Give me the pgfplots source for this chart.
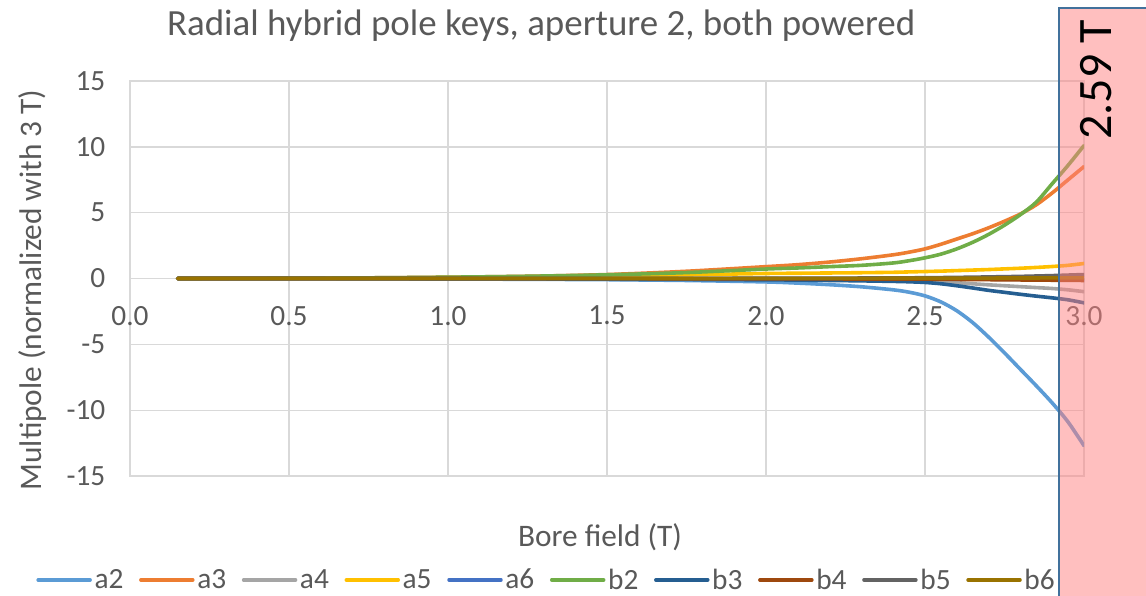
\documentclass[border=0pt]{standalone}
\usepackage{pgfplots}
\usepackage{pgfplotstable}
\pgfplotsset{compat=1.18}
\usepackage{fontspec}
\setmainfont{Carlito}
\definecolor{txt}{HTML}{595959}
\definecolor{gridc}{HTML}{D9D9D9}
\definecolor{ca2}{HTML}{5B9BD5}
\definecolor{ca3}{HTML}{ED7D31}
\definecolor{ca4}{HTML}{A5A5A5}
\definecolor{ca5}{HTML}{FFC000}
\definecolor{ca6}{HTML}{4472C4}
\definecolor{cb2}{HTML}{70AD47}
\definecolor{cb3}{HTML}{255E91}
\definecolor{cb4}{HTML}{9E480E}
\definecolor{cb5}{HTML}{636363}
\definecolor{cb6}{HTML}{997300}
\definecolor{pinkf}{RGB}{255,128,128}
\definecolor{boxblue}{HTML}{41719C}

\pgfplotstableread{
x     a2     a3    a4     a5    a6     b2    b3     b4     b5     b6
0.15  0      0     0      0     0      0     0      0      0      0
0.50  -0.01  0.02  0      0.01  0      0.02  0      0      0      0
0.75  -0.02  0.05  0      0.03  0      0.05  -0.01  0      0      0
1.00  -0.04  0.10  -0.01  0.06  0      0.10  -0.02  0      0      0
1.25  -0.06  0.17  -0.02  0.10  0      0.17  -0.03  -0.01  0      0
1.50  -0.09  0.30  -0.03  0.18  -0.01  0.28  -0.05  -0.01  0.01   0
1.75  -0.15  0.55  -0.04  0.28  -0.01  0.45  -0.07  -0.02  0.01   0
2.00  -0.26  0.90  -0.05  0.38  -0.01  0.72  -0.10  -0.02  0.02   0.01
2.10  -0.35  1.05  -0.06  0.40  -0.02  0.80  -0.12  -0.03  0.025  0.01
2.20  -0.47  1.25  -0.08  0.42  -0.02  0.90  -0.15  -0.03  0.03   0.01
2.30  -0.63  1.50  -0.10  0.44  -0.02  1.00  -0.18  -0.04  0.035  0.01
2.40  -0.86  1.80  -0.14  0.47  -0.03  1.18  -0.22  -0.04  0.045  0.02
2.45  -1.04  2.00  -0.17  0.50  -0.03  1.35  -0.25  -0.05  0.05   0.02
2.50  -1.32  2.25  -0.20  0.53  -0.03  1.57  -0.30  -0.05  0.06   0.02
2.55  -1.78  2.60  -0.25  0.56  -0.04  1.85  -0.40  -0.06  0.07   0.02
2.60  -2.45  3.00  -0.32  0.60  -0.04  2.25  -0.55  -0.07  0.085  0.03
2.65  -3.35  3.40  -0.40  0.64  -0.05  2.75  -0.72  -0.08  0.10   0.03
2.70  -4.45  3.85  -0.48  0.68  -0.05  3.35  -0.90  -0.09  0.12   0.03
2.75  -5.65  4.35  -0.55  0.73  -0.06  4.05  -1.05  -0.10  0.14   0.04
2.80  -6.90  4.90  -0.62  0.78  -0.07  4.85  -1.20  -0.11  0.16   0.04
2.85  -8.15  5.60  -0.69  0.84  -0.08  5.80  -1.34  -0.12  0.19   0.04
2.90  -9.45  6.50  -0.76  0.91  -0.08  7.20  -1.47  -0.13  0.22   0.05
2.95  -10.9  7.50  -0.86  1.00  -0.09  8.60  -1.62  -0.14  0.26   0.05
3.00  -12.7  8.50  -1.00  1.14  -0.10  10.1  -1.85  -0.15  0.30   0.05
}\datatable

\begin{document}
\begin{tikzpicture}
\begin{axis}[
  scale only axis,
  width=715.5pt, height=296.25pt,
  xmin=0, xmax=3, ymin=-15, ymax=15,
  xtick={0,0.5,...,3.0}, ytick={-15,-10,...,15},
  major tick length=0pt,
  grid=major,
  major grid style={draw=gridc, line width=1pt},
  axis line style={draw=gridc, line width=1pt},
  tick label style={font=\fontsize{22}{26}\selectfont, text=txt},
  /pgf/number format/assume math mode=true,
  xticklabel style={/pgf/number format/.cd, fixed, fixed zerofill, precision=1, /tikz/.cd, yshift=131pt},
  yticklabel style={xshift=-15pt},
  title={Radial hybrid pole keys, aperture 2, both powered},
  title style={at={(axis description cs:0.431,1.119)}, anchor=center, font=\fontsize{27.7}{32}\selectfont, text=txt},
  xlabel={Bore field (T)},
  xlabel style={at={(axis description cs:0.4927,-0.154)}, anchor=center, font=\fontsize{23.5}{28}\selectfont, text=txt},
  ylabel={Multipole (normalized with 3 T)},
  ylabel style={at={(axis description cs:-0.1017,0.471)}, anchor=center, rotate=0, font=\fontsize{23.5}{28}\selectfont, text=txt},
  legend columns=10,
  legend style={at={(axis description cs:0.437,-0.263)}, anchor=center, draw=none, fill=none,
    font=\fontsize{22}{26}\selectfont, text=txt,
    /tikz/every even column/.append style={column sep=9.75pt}},
  legend image code/.code={\draw[#1, line width=2.6pt] (0pt,0pt) -- (39pt,0pt);},
  every axis plot/.append style={line width=2.7pt, no markers, smooth, line cap=round},
]
\addplot[ca2] table[x=x,y=a2] {\datatable};
\addplot[ca3] table[x=x,y=a3] {\datatable};
\addplot[ca4] table[x=x,y=a4] {\datatable};
\addplot[ca5] table[x=x,y=a5] {\datatable};
\addplot[ca6] table[x=x,y=a6] {\datatable};
\addplot[cb2] table[x=x,y=b2] {\datatable};
\addplot[cb3] table[x=x,y=b3] {\datatable};
\addplot[cb4] table[x=x,y=b4] {\datatable};
\addplot[cb5] table[x=x,y=b5] {\datatable};
\addplot[cb6] table[x=x,y=b6] {\datatable};
\legend{a2,a3,a4,a5,a6,b2,b3,b4,b5,b6}
\coordinate (sw) at (rel axis cs:0,0);
\end{axis}
\fill[pinkf, fill opacity=0.5] ([shift={(696.75pt,-90pt)}]sw) rectangle ([shift={(762pt,351pt)}]sw);
\draw[boxblue, line width=1.6pt] ([shift={(696.75pt,-92pt)}]sw) -- ([shift={(696.75pt,351pt)}]sw) -- ([shift={(764pt,351pt)}]sw);
\node[rotate=90, anchor=center, font=\fontsize{36}{40}\selectfont, text=black] at ([shift={(724.5pt,297pt)}]sw) {2.59 T};
\pgfresetboundingbox
\path[use as bounding box] ([shift={(-97.5pt,-90pt)}]sw) rectangle ([shift={(762pt,357pt)}]sw);
\end{tikzpicture}
\end{document}
